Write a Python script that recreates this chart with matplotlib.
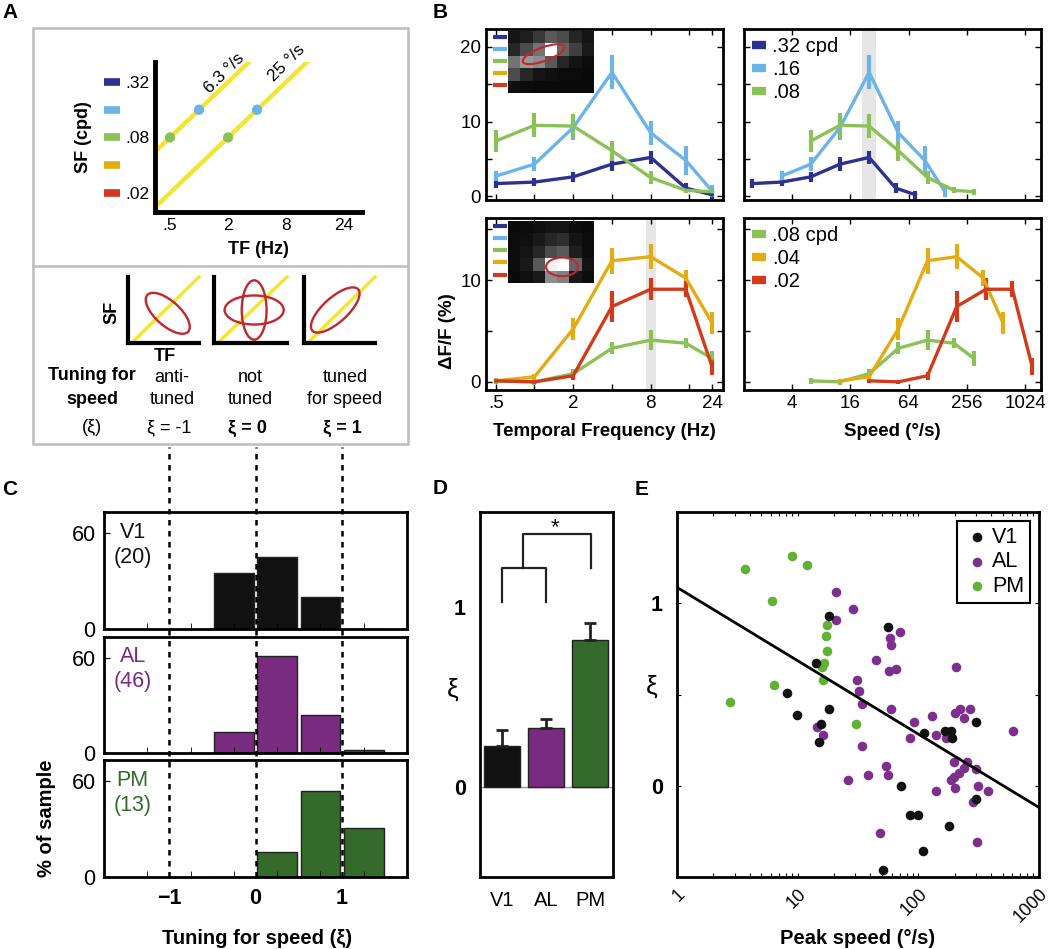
import matplotlib
matplotlib.use("Agg")
import matplotlib.pyplot as plt
import numpy as np
from matplotlib.patches import Ellipse, Rectangle
from matplotlib.lines import Line2D
from matplotlib.ticker import NullLocator, FixedLocator
from matplotlib.transforms import blended_transform_factory

plt.rcParams['font.family'] = ['Liberation Sans', 'DejaVu Sans']

W, H = 1050, 949

# colours
C32, C16, C08, C04, C02 = '#2E3190', '#6CB4E8', '#8CC157', '#E4AC14', '#D13B1C'
YEL, RED = '#F2E534', '#C1272D'
K_V1, K_AL, K_PM = '#111111', '#782B7F', '#346A2A'
E_AL, E_PM = '#7D2F8E', '#62B034'

# ---- panel A (schematic) ----
a_sf_levels = [0.32, 0.16, 0.08, 0.04, 0.02]
a_sf_labels = ['.32', '', '.08', '', '.02']
a_tf_ticks = [0.5, 2, 8, 32]
a_tf_labels = ['.5', '2', '8', '24']
a_speeds = [6.25, 25]
a_speed_labels = ['6.3 °/s', '25 °/s']
a_dot_tf = [0.5, 1, 2, 4]
a_dot_sf = [0.08, 0.16, 0.08, 0.16]

# ---- panel B ----
tf = np.array([0.5, 1, 2, 4, 8, 15, 24])
top_sf = [0.32, 0.16, 0.08]
top_032 = [1.7, 1.9, 2.6, 4.3, 5.2, 1.1, 0.2]
top_016 = [2.7, 4.3, 9.2, 16.6, 8.5, 4.8, 0.7]
top_008 = [7.4, 9.5, 9.4, 6.1, 2.5, 0.8, 0.6]
top_032_err = [0.55, 0.55, 0.65, 0.9, 0.9, 0.65, 0.55]
top_016_err = [0.7, 0.9, 1.6, 2.3, 1.6, 1.9, 0.8]
top_008_err = [1.45, 1.6, 1.6, 1.35, 0.9, 0.4, 0.4]
bot_sf = [0.08, 0.04, 0.02]
bot_008 = [0.1, 0.0, 0.8, 3.3, 4.1, 3.8, 2.3]
bot_004 = [0.1, 0.5, 5.2, 11.9, 12.3, 10.2, 5.8]
bot_002 = [0.1, 0.0, 0.6, 7.4, 9.1, 9.1, 1.5]
bot_008_err = [0.3, 0.3, 0.5, 0.6, 1.0, 0.5, 0.7]
bot_004_err = [0.2, 0.3, 1.1, 1.3, 1.2, 0.8, 1.1]
bot_002_err = [0.2, 0.2, 0.4, 1.5, 1.1, 0.8, 0.8]
top_img = [[0.08, 0.12, 0.22, 0.35, 0.30, 0.15, 0.08],
           [0.15, 0.30, 0.45, 1.00, 0.40, 0.25, 0.10],
           [0.45, 0.60, 0.55, 0.35, 0.15, 0.08, 0.05],
           [0.30, 0.15, 0.08, 0.06, 0.05, 0.05, 0.04],
           [0.06, 0.05, 0.04, 0.04, 0.04, 0.04, 0.04]]
bot_img = [[0.04, 0.05, 0.06, 0.08, 0.08, 0.05, 0.04],
           [0.05, 0.06, 0.10, 0.15, 0.18, 0.08, 0.05],
           [0.05, 0.08, 0.15, 0.30, 0.35, 0.12, 0.05],
           [0.05, 0.10, 0.35, 0.95, 1.00, 0.40, 0.08],
           [0.04, 0.06, 0.10, 0.55, 0.50, 0.10, 0.05]]

# ---- panel C ----
xi_bins = [-0.25, 0.25, 0.75, 1.25]
v1_counts = [7, 9, 4, 0]
al_counts = [6, 28, 11, 1]
pm_counts = [0, 2, 7, 4]

# ---- panel D ----
areas = ['V1', 'AL', 'PM']
xi_mean = [0.23, 0.33, 0.82]
xi_sem = [0.09, 0.05, 0.09]

# ---- panel E ----
v1_speed = [18.3, 56.3, 14.1, 8.2, 9.96, 18.3, 15.5, 15.0, 71.7, 299, 112, 166, 186, 191,
            299, 85.1, 98.5, 180, 110, 51.2]
v1_xi = [0.93, 0.87, 0.67, 0.51, 0.39, 0.42, 0.34, 0.24, 0.0, 0.35, 0.29, 0.30, 0.30, 0.26,
         -0.07, -0.16, -0.16, -0.22, -0.36, -0.46]
al_speed = [20.8, 28.9, 20.8, 70.3, 58.2, 59.3, 44.3, 57.0, 65.2, 204, 31.2, 32.4, 34.3, 59.3,
            92.5, 130, 203, 223, 270, 238, 14.4, 16.1, 140, 168, 85.1, 34.3, 609, 197, 254,
            299, 53.9, 55.6, 38.0, 26.0, 197, 216, 186, 202, 315, 378, 141, 283, 48.1, 307, 238]
al_xi = [1.06, 0.97, 0.91, 0.84, 0.81, 0.77, 0.69, 0.63, 0.64, 0.65, 0.58, 0.52, 0.45, 0.42,
         0.35, 0.38, 0.40, 0.42, 0.42, 0.37, 0.32, 0.28, 0.28, 0.26, 0.26, 0.22, 0.30, 0.13,
         0.13, 0.09, 0.11, 0.06, 0.06, 0.03, 0.05, 0.07, 0.03, -0.01, 0.0, -0.03, -0.03, -0.09,
         -0.26, -0.31, 0.10]
pm_speed = [8.9, 11.9, 3.67, 6.1, 17.4, 17.1, 17.4, 16.5, 16.0, 16.1, 6.4, 2.73, 30.4]
pm_xi = [1.26, 1.21, 1.19, 1.01, 0.88, 0.82, 0.74, 0.67, 0.65, 0.58, 0.55, 0.46, 0.34]
fit_intercept, fit_slope = 1.087, -0.402


def box(l, t, r, b):
    return [l / W, 1 - b / H, (r - l) / W, (b - t) / H]


def ftext(x, y, s, **kw):
    fig.text(x / W, 1 - y / H, s, **kw)


fig = plt.figure(figsize=(W / 100, H / 100), dpi=100)

# panel letters
for lab, x, y in [('A', 2, 13), ('B', 433, 12), ('C', 2, 489), ('D', 433, 488), ('E', 635, 489)]:
    ftext(x, y, lab, fontsize=15, fontweight='bold', va='center', ha='left')

# ================= A =================
fig.add_artist(Rectangle((33 / W, 1 - 444 / H), 375 / W, 416 / H, transform=fig.transFigure,
                         fill=False, ec='#BDBDBD', lw=1.8))
fig.add_artist(Line2D([33 / W, 408 / W], [1 - 266 / H] * 2, transform=fig.transFigure,
                      color='#BDBDBD', lw=1.8))

axA = fig.add_axes(box(155, 62, 362, 212))
axA.set_xscale('log', base=2)
axA.set_yscale('log', base=2)
axA.set_xlim(0.349, 49)
axA.set_ylim(0.0124, 0.528)
for s in ['top', 'right']:
    axA.spines[s].set_visible(False)
for s in ['left', 'bottom']:
    axA.spines[s].set_linewidth(3.5)
tf_line = np.geomspace(0.3, 60, 60)
for v in a_speeds:
    axA.plot(tf_line, tf_line / v, color=YEL, lw=3.2, solid_capstyle='butt')
axA.scatter(a_dot_tf, a_dot_sf, c=[C08, C16, C08, C16], s=55, zorder=3, lw=0)
axA.set_xticks(a_tf_ticks)
axA.set_xticklabels(a_tf_labels, fontsize=12.5)
axA.set_yticks(a_sf_levels)
axA.set_yticklabels(a_sf_labels, fontsize=12.5)
axA.xaxis.set_minor_locator(NullLocator())
axA.yaxis.set_minor_locator(NullLocator())
axA.tick_params(length=0, pad=4)
trA = blended_transform_factory(axA.transAxes, axA.transData)
for sf, c in zip(a_sf_levels, [C32, C16, C08, C04, C02]):
    axA.plot([-0.245, -0.17], [sf, sf], transform=trA, color=c, lw=5.5, clip_on=False,
             solid_capstyle='butt')
for v, lab, tf_at, off in zip(a_speeds, a_speed_labels, [2.12, 10.1], [4.5, 7]):
    axA.annotate(lab, xy=(tf_at, tf_at / v), xytext=(-off, off), textcoords='offset points',
                 rotation=45, ha='center', va='center', fontsize=12.5, rotation_mode='anchor')
ftext(258, 250, 'TF (Hz)', fontsize=13, fontweight='bold', ha='center', va='center')
ftext(83, 137, 'SF (cpd)', fontsize=13, fontweight='bold', ha='center', va='center', rotation=90)

# mini schematics
minis = [(128, 199), (214, 287), (304, 375)]
ell_specs = [[(0.56, 0.45, 0.8, 0.36, -45)],
             [(0.55, 0.5, 0.81, 0.44, 0), (0.55, 0.5, 0.34, 0.9, 0)],
             [(0.44, 0.5, 0.9, 0.36, 45)]]
for (l, r), specs in zip(minis, ell_specs):
    m = fig.add_axes(box(l, 277, r, 343))
    m.set_xlim(0, 1)
    m.set_ylim(0, 1)
    m.set_xticks([])
    m.set_yticks([])
    m.patch.set_visible(False)
    for s in ['top', 'right']:
        m.spines[s].set_visible(False)
    for s in ['left', 'bottom']:
        m.spines[s].set_linewidth(3)
    m.plot([0.05, 1.0], [0, 1.0], color=YEL, lw=2.5, clip_on=False, zorder=1)
    for cx, cy, w, h, ang in specs:
        m.add_patch(Ellipse((cx, cy), w, h, angle=ang, fill=False, ec=RED, lw=1.7, zorder=2))

ftext(112, 312, 'SF', fontsize=13, fontweight='bold', rotation=90, ha='center', va='center')
ftext(165, 356, 'TF', fontsize=13, fontweight='bold', ha='center', va='center')
ftext(92, 376, 'Tuning for', fontsize=13, fontweight='bold', ha='center', va='center')
ftext(92, 400, 'speed', fontsize=13, fontweight='bold', ha='center', va='center')
ftext(92, 427, '(ξ)', fontsize=13, ha='center', va='center')
for x, l1, l2, l3, wt in [(172, 'anti-', 'tuned', 'ξ = -1', 'normal'),
                          (250, 'not', 'tuned', 'ξ = 0', 'bold'),
                          (345, 'tuned', 'for speed', 'ξ = 1', 'bold')]:
    ftext(x, 377, l1, fontsize=13, ha='center', va='center')
    ftext(x, 400, l2, fontsize=13, ha='center', va='center')
    ftext(x - 3, 428, l3, fontsize=13, ha='center', va='center', fontweight=wt)

# ================= B =================
def style_b(ax, ylim, yt, ytm):
    ax.set_ylim(*ylim)
    ax.set_yticks(yt)
    ax.yaxis.set_minor_locator(FixedLocator(ytm))
    ax.tick_params(which='both', direction='in', top=True, right=True, length=4, width=1,
                   labelsize=13.5)
    for s in ax.spines.values():
        s.set_linewidth(2)


def draw_series(ax, x, ys, errs, cols):
    for y, e, c in zip(ys, errs, cols):
        ax.errorbar(x, y, yerr=e, color=c, lw=2.4, elinewidth=3, capsize=0, zorder=3)


b_boxes = {'tl': box(486, 29, 723, 200), 'tr': box(744, 29, 1041, 200),
           'bl': box(486, 218, 723, 390), 'br': box(744, 218, 1041, 390)}
top_ys, top_es, top_cs = [top_032, top_016, top_008], [top_032_err, top_016_err, top_008_err], [C32, C16, C08]
bot_ys, bot_es, bot_cs = [bot_008, bot_004, bot_002], [bot_008_err, bot_004_err, bot_002_err], [C08, C04, C02]

for key in ['tl', 'tr', 'bl', 'br']:
    ax = fig.add_axes(b_boxes[key])
    top = key[0] == 't'
    ys, es, cs = (top_ys, top_es, top_cs) if top else (bot_ys, bot_es, bot_cs)
    sfs = top_sf if top else bot_sf
    ax.set_xscale('log', base=2)
    if key[1] == 'l':
        ax.set_xlim(0.42, 29.2)
        draw_series(ax, tf, ys, es, cs)
        ax.set_xticks([0.5, 1, 2, 4, 8, 16, 24])
        ax.set_xticklabels(['.5', '', '2', '', '8', '', '24'])
        if not top:
            ax.axvspan(7.3, 8.8, color='#E6E6E6', lw=0, zorder=0)
    else:
        ax.set_xlim(1.28, 1480)
        for y, e, c, sf in zip(ys, es, cs, sfs):
            ax.errorbar(tf / sf, y, yerr=e, color=c, lw=2.4, elinewidth=3, capsize=0, zorder=3)
        ax.set_xticks([4, 16, 64, 256, 1024])
        ax.set_xticklabels(['4', '16', '64', '256', '1024'])
        if top:
            ax.axvspan(21, 29.5, color='#E6E6E6', lw=0, zorder=0)
        hnd = [Line2D([], [], color=c, lw=6, solid_capstyle='butt') for c in cs]
        labs = ['%s cpd' % ('%.2f' % sfs[0])[1:]] + [('%.2f' % s)[1:] for s in sfs[1:]]
        ax.legend(hnd, labs, loc='upper left', frameon=False, fontsize=14.5, handlelength=0.7,
                  handletextpad=0.3, labelspacing=0.2, borderaxespad=0.2, borderpad=0.2)
    ax.xaxis.set_minor_locator(NullLocator())
    if top:
        style_b(ax, (-0.5, 22.4), [0, 10, 20], [5, 15])
    else:
        style_b(ax, (-0.8, 16.1), [0, 10], [5, 15])
    if top:
        ax.set_xticklabels([])
    if key[1] == 'r':
        ax.set_yticklabels([])
    if key[1] == 'l':
        # inset receptive field
        img = top_img if top else bot_img
        ins = fig.add_axes(box(508, 31, 594, 93) if top else box(508, 221, 594, 283))
        ins.imshow(img, cmap='gray', vmin=0, vmax=1, aspect='auto', interpolation='nearest')
        if top:
            ins.add_patch(Ellipse((2.4, 1.37), 3.6, 1.1, angle=-20, fill=False, ec=RED, lw=1.5))
        else:
            ins.add_patch(Ellipse((3.9, 3.2), 2.6, 1.5, angle=0, fill=False, ec=RED, lw=1.5))
        ins.set_xticks([])
        ins.set_yticks([])
        for s in ins.spines.values():
            s.set_visible(False)
        for yy, c in zip([0.953, 0.883, 0.813, 0.743, 0.670], [C32, C16, C08, C04, C02]):
            ax.plot([0.03, 0.09], [yy, yy], transform=ax.transAxes, color=c, lw=3,
                    solid_capstyle='butt')
    if key == 'bl':
        ax.set_xlabel('Temporal Frequency (Hz)', fontsize=13.5, fontweight='bold', labelpad=8)
    if key == 'br':
        ax.set_xlabel('Speed (°/s)', fontsize=13.5, fontweight='bold', labelpad=8)

ftext(447, 331, 'ΔF/F (%)', fontsize=13.5, fontweight='bold', rotation=90, ha='center', va='center')

# ================= C =================
c_rows = [(512, 629, v1_counts, K_V1, 'V1'), (637, 753, al_counts, K_AL, 'AL'),
          (760, 877, pm_counts, K_PM, 'PM')]
for i, (t, b, counts, col, name) in enumerate(c_rows):
    ax = fig.add_axes(box(104, t, 407, b))
    n = sum(counts)
    pct = 100 * np.array(counts) / n
    ax.bar(xi_bins, pct, width=0.46, color=col, ec='#222222', lw=1)
    ax.set_xlim(-1.75, 1.75)
    ax.set_ylim(0, 73)
    ax.set_yticks([0, 60])
    ax.set_xticks([-1, 0, 1])
    ax.xaxis.set_minor_locator(FixedLocator([-1.25, -0.75, -0.25, 0.25, 0.75, 1.25]))
    ax.tick_params(axis='y', direction='in', length=4, labelsize=15.5, pad=6)
    ax.tick_params(axis='x', which='major', length=0, labelsize=15.5, pad=8)
    ax.tick_params(axis='x', which='minor', direction='in', length=4)
    for s in ax.spines.values():
        s.set_linewidth(2)
    if i < 2:
        ax.set_xticklabels([])
    else:
        for lbl in ax.get_xticklabels():
            lbl.set_fontweight('bold')
    ax.text(0.095, 0.72, '%s\n(%d)' % (name, n), transform=ax.transAxes, ha='center',
            va='center', fontsize=15.5, color=col, linespacing=1.25)

ov = fig.add_axes(box(104, 447, 407, 877))
ov.set_xlim(-1.75, 1.75)
ov.set_ylim(0, 1)
ov.axis('off')
for xv in [-1, 0, 1]:
    ov.axvline(xv, color='black', lw=1.8, ls=(0, (2.2, 2.2)))
ftext(47, 818, '% of sample', fontsize=14.5, fontweight='bold', rotation=90, ha='center', va='center')
ftext(257, 939, 'Tuning for speed (ξ)', fontsize=14.5, fontweight='bold', ha='center', va='center')

# ================= D =================
axD = fig.add_axes(box(480, 512, 613, 877))
xd = np.arange(len(areas))
axD.bar(xd, xi_mean, width=0.82, color=[K_V1, K_AL, K_PM], ec='#222222', lw=1, zorder=2)
axD.errorbar(xd, xi_mean, yerr=[np.zeros(3), xi_sem], fmt='none', ecolor='#222222',
             elinewidth=2, capsize=4, capthick=2, zorder=3)
axD.axhline(0, color='#999999', lw=1, zorder=1)
axD.set_xlim(-0.5, 2.52)
axD.set_ylim(-0.5, 1.53)
axD.set_xticks(xd)
axD.set_xticklabels(areas, fontsize=14.5)
axD.set_yticks([0, 1])
axD.set_yticklabels(['0', '1'], fontsize=15.5, fontweight='bold')
axD.tick_params(length=0, pad=10)
for s in axD.spines.values():
    s.set_linewidth(2)
axD.plot([0, 0, 1, 1], [1.03, 1.22, 1.22, 1.03], color='#222222', lw=1.6)
axD.plot([0.48, 0.48, 2.02, 2.02], [1.22, 1.41, 1.41, 1.22], color='#222222', lw=1.6)
axD.text(1.2, 1.445, '*', ha='center', va='center', fontsize=16)
ftext(453, 690, 'ξ', fontsize=19, ha='center', va='center')

# ================= E =================
axE = fig.add_axes(box(677, 512, 1039, 877))
axE.set_xscale('log')
axE.scatter(al_speed, al_xi, s=48, color=E_AL, lw=0, label='AL', zorder=2)
axE.scatter(pm_speed, pm_xi, s=48, color=E_PM, lw=0, label='PM', zorder=3)
axE.scatter(v1_speed, v1_xi, s=48, color=K_V1, lw=0, label='V1', zorder=4)
xs = np.array([1, 1000])
axE.plot(xs, fit_intercept + fit_slope * np.log10(xs), color='black', lw=2, zorder=5)
axE.set_xlim(1, 1000)
axE.set_ylim(-0.5, 1.5)
axE.set_xticks([1, 10, 100, 1000])
axE.set_xticklabels(['1', '10', '100', '1000'], rotation=45, fontsize=13,
                    ha='right', va='top', rotation_mode='anchor')
axE.set_yticks([0, 1])
axE.set_yticklabels(['0', '1'], fontsize=15.5, fontweight='bold')
axE.yaxis.set_minor_locator(FixedLocator([-0.5, 0.5, 1.5]))
axE.tick_params(which='both', direction='in', top=True, right=True, length=3, width=0.8)
axE.tick_params(axis='y', pad=10)
axE.tick_params(axis='x', pad=6)
for s in axE.spines.values():
    s.set_linewidth(2)
h, l = axE.get_legend_handles_labels()
order = [2, 0, 1]
leg = axE.legend([h[i] for i in order], [l[i] for i in order], loc='upper right', fontsize=15.5,
                 fancybox=False, edgecolor='black', framealpha=1, borderaxespad=0.4,
                 handletextpad=0.1, borderpad=0.3, labelspacing=0.15, handlelength=1.2)
leg.get_frame().set_linewidth(1.5)
axE.set_xlabel('Peak speed (°/s)', fontsize=14.5, fontweight='bold', labelpad=2)
ftext(652, 687, 'ξ', fontsize=19, ha='center', va='center')

fig.savefig('out.png', dpi=100)
